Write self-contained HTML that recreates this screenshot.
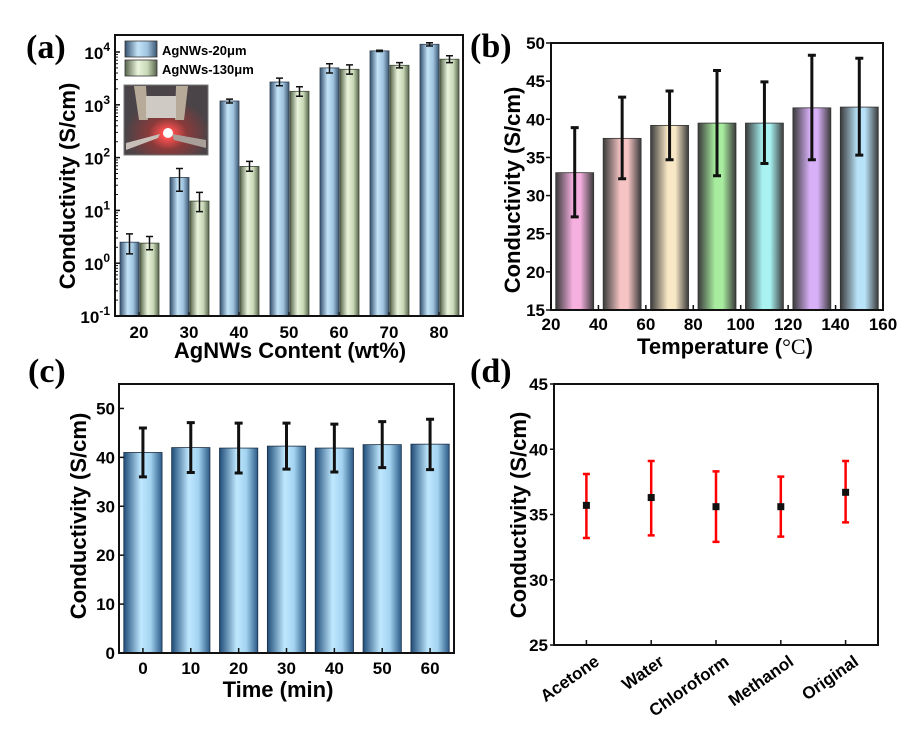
<!DOCTYPE html>
<html><head><meta charset="utf-8"><style>
html,body{margin:0;padding:0;background:#fff}
svg{display:block;font-family:"Liberation Sans",Arial,sans-serif}
.tk{font-size:17px;font-weight:bold}
.ti{font-size:22px;font-weight:bold}
.pl{font-family:"Liberation Serif",serif;font-size:34px;font-weight:bold}
</style></head><body>
<svg id="fig" width="899" height="735" viewBox="0 0 899 735">
<defs>
<linearGradient id="gBlue" x1="0" x2="1"><stop offset="0" stop-color="#34506e"/><stop offset="0.4" stop-color="#c4e4f8"/><stop offset="0.7" stop-color="#9fc3de"/><stop offset="1" stop-color="#3b5571"/></linearGradient>
<linearGradient id="gGreen" x1="0" x2="1"><stop offset="0" stop-color="#56634b"/><stop offset="0.4" stop-color="#eaf4dc"/><stop offset="0.7" stop-color="#c8d8b6"/><stop offset="1" stop-color="#56634b"/></linearGradient>
<linearGradient id="gC" x1="0" x2="1"><stop offset="0" stop-color="#1f4c78"/><stop offset="0.45" stop-color="#bfe8ff"/><stop offset="0.7" stop-color="#a3d3f0"/><stop offset="1" stop-color="#2b5a86"/></linearGradient>
<radialGradient id="glow" cx="0.52" cy="0.7" r="0.5"><stop offset="0" stop-color="#fff"/><stop offset="0.12" stop-color="#ff5050"/><stop offset="0.45" stop-color="#8a3a3a"/><stop offset="1" stop-color="#4a4448"/></radialGradient>
</defs>
<g id="pa"></g>
<g id="pb"></g>
<g id="pc"></g>
<g id="pd"></g>
</svg>
<script>
// Panel a data
const aCats=[20,30,40,50,60,70,80];
const aBlue=[2.5,42,1180,2700,5000,10500,14000];
const aBlueLo=[1.5,23,1080,2300,4000,10200,13000];
const aBlueHi=[3.6,62,1280,3200,6000,10800,15000];
const aGreen=[2.4,15,68,1800,4700,5600,7300];
const aGreenLo=[1.8,9.5,55,1450,3800,5000,6300];
const aGreenHi=[3.2,22,85,2200,5700,6300,8500];
const aTicks=[-1,0,1,2,3,4];
// Panel b data
const bCats=[30,50,70,90,110,130,150];
const bVals=[33,37.5,39.2,39.5,39.5,41.5,41.6];
const bLo=[27.2,32.2,34.7,32.6,34.2,34.7,35.3];
const bHi=[38.9,42.9,43.7,46.4,44.9,48.4,48.0];
const bColors=["#f6b0e0","#f6c4c4","#f9e8c6","#a8eca0","#a8f2f2","#d8b0f8","#b8e2f8"];
const bXTicks=[20,40,60,80,100,120,140,160];
const bYTicks=[15,20,25,30,35,40,45,50];
// Panel c data
const cCats=[0,10,20,30,40,50,60];
const cVals=[41,42,41.9,42.3,41.9,42.6,42.7];
const cLo=[36,36.9,36.8,37.6,37,37.9,37.5];
const cHi=[46,47.1,47,47,46.8,47.3,47.8];
const cYTicks=[0,10,20,30,40,50];
// Panel d data
const dCats=["Acetone","Water","Chloroform","Methanol","Original"];
const dVals=[35.7,36.3,35.6,35.6,36.7];
const dLo=[33.2,33.4,32.9,33.3,34.4];
const dHi=[38.1,39.1,38.3,37.9,39.1];
const dYTicks=[25,30,35,40,45];

const NS="http://www.w3.org/2000/svg";
function mk(p,tag,at,txt){const e=document.createElementNS(NS,tag);for(const k in at)e.setAttribute(k,at[k]);if(txt!==undefined)e.textContent=txt;p.appendChild(e);return e;}
function errbar(g,x,y1,y2,w,color,sw,name){
  const e=mk(g,'path',{d:`M${x},${y1}V${y2}M${x-w},${y1}H${x+w}M${x-w},${y2}H${x+w}`,stroke:color,'stroke-width':sw,fill:'none'});
  
  
}
function frame(g,l,t,r,b){const e=mk(g,'rect',{x:l,y:t,width:r-l,height:b-t,fill:'none',stroke:'#111','stroke-width':2});
  
  }
function ytitle(g,x,y,txt){const e=mk(g,'text',{x:x,y:y,class:'ti','text-anchor':'middle',transform:`rotate(-90 ${x} ${y})`},txt);
  
  }
function xtitle(g,x,y,txt){const e=mk(g,'text',{x:x,y:y,class:'ti','text-anchor':'middle'},txt);
  
  }
function plabel(g,x,y,txt){const e=mk(g,'text',{x:x,y:y,class:'pl'},txt);
  
  }

// ---- Panel a
(function(){
 const g=document.getElementById('pa');
 const L=115,R=463,T=35,B=316;
 const y=v=>B-(Math.log10(v)+1)*52.8;
 const x=c=>139+(c-20)*5.0;
 aCats.forEach((c,i)=>{
  const cx=x(c);
  let r=mk(g,'rect',{x:cx-19,y:y(aBlue[i]),width:19,height:B-y(aBlue[i]),fill:'url(#gBlue)',stroke:'#2f3f50','stroke-width':0.8});
  
  
  r=mk(g,'rect',{x:cx+1,y:y(aGreen[i]),width:19,height:B-y(aGreen[i]),fill:'url(#gGreen)',stroke:'#3e4a36','stroke-width':0.8});
  
  
  errbar(g,cx-9.5,y(aBlueLo[i]),y(aBlueHi[i]),3.5,'#111',1.5,'errorbar-20um');
  errbar(g,cx+10.5,y(aGreenLo[i]),y(aGreenHi[i]),3.5,'#111',1.5,'errorbar-130um');
  let t=mk(g,'text',{x:cx,y:338,class:'tk','text-anchor':'middle'},c);
  
  
  mk(g,'line',{x1:cx,x2:cx,y1:B,y2:B-4,stroke:'#111','stroke-width':1.2});
 });
 aTicks.forEach(p=>{
  const yy=y(Math.pow(10,p));
  mk(g,'line',{x1:L,x2:L+5,y1:yy,y2:yy,stroke:'#111','stroke-width':1.5});
  if(p<4)for(let k=2;k<10;k++){const ym=y(k*Math.pow(10,p));mk(g,'line',{x1:L,x2:L+3,y1:ym,y2:ym,stroke:'#111','stroke-width':1});}
  const t=mk(g,'text',{x:L-5,y:yy+7,class:'tk','text-anchor':'end'});
  
  
  mk(t,'tspan',{},'10');
  mk(t,'tspan',{dy:-8,'font-size':12},String(p));
 });
 frame(g,L,T,R,B);
 // legend
 let s=mk(g,'rect',{x:125,y:41,width:32,height:16,fill:'url(#gBlue)',stroke:'#333','stroke-width':0.8});
 
 
 s=mk(g,'rect',{x:125,y:60,width:32,height:16,fill:'url(#gGreen)',stroke:'#333','stroke-width':0.8});
 
 
 let t=mk(g,'text',{x:162,y:55,'font-size':13,'font-weight':'bold'},'AgNWs-20μm');
 
 
 t=mk(g,'text',{x:162,y:74,'font-size':13,'font-weight':'bold'},'AgNWs-130μm');
 
 
 // inset photo
 const ig=mk(g,'g',{});
 
 
 mk(ig,'rect',{x:124,y:85,width:84,height:70,fill:'url(#glow)',stroke:'#777','stroke-width':1});
 mk(ig,'path',{d:'M134,86 L146,86 L148,120 L139,120Z',fill:'#b8aa98'});
 mk(ig,'path',{d:'M176,86 L188,86 L184,120 L175,120Z',fill:'#b8aa98'});
 mk(ig,'rect',{x:146,y:96,width:30,height:22,fill:'#cfcac4'});
 mk(ig,'path',{d:'M126,143 L160,134 L158,138 L126,150Z',fill:'#c8c0b8'});
 mk(ig,'path',{d:'M172,134 L206,140 L206,148 L174,140Z',fill:'#a8a098'});
 mk(ig,'circle',{cx:168,cy:133,r:5,fill:'#fff'});
 ytitle(g,75,186,'Conductivity (S/cm)');
 xtitle(g,290,358,'AgNWs Content (wt%)');
 plabel(g,26,58,'(a)');
})();

// ---- Panel b
(function(){
 const g=document.getElementById('pb');
 const L=551,R=883,T=43,B=310;
 const x=v=>L+(v-20)*(R-L)/140;
 const y=v=>B-(v-15)*(B-T)/35;
 bCats.forEach((c,i)=>{
  const gid='gb'+i;
  const lg=mk(document.querySelector('defs'),'linearGradient',{id:gid,x1:0,x2:1});
  mk(lg,'stop',{offset:0,'stop-color':'#3a3a3a'});
  mk(lg,'stop',{offset:0.45,'stop-color':bColors[i]});
  mk(lg,'stop',{offset:0.65,'stop-color':bColors[i]});
  mk(lg,'stop',{offset:1,'stop-color':'#3a3a3a'});
  const r=mk(g,'rect',{x:x(c-8),y:y(bVals[i]),width:x(c+8)-x(c-8),height:B-y(bVals[i]),fill:`url(#${gid})`,stroke:'#333','stroke-width':0.8});
  
  
  errbar(g,x(c),y(bLo[i]),y(bHi[i]),4,'#111',3,'errorbar-'+c+'C');
 });
 bXTicks.forEach(v=>{
  mk(g,'line',{x1:x(v),x2:x(v),y1:B,y2:B-5,stroke:'#111','stroke-width':1.5});
  const t=mk(g,'text',{x:x(v),y:330,class:'tk','text-anchor':'middle'},v);
  
  
 });
 bYTicks.forEach(v=>{
  mk(g,'line',{x1:L,x2:L-5,y1:y(v),y2:y(v),stroke:'#111','stroke-width':1.5});
  const t=mk(g,'text',{x:L-6,y:y(v)+6,class:'tk','text-anchor':'end'},v);
  
  
 });
 frame(g,L,T,R,B);
 ytitle(g,520,190,'Conductivity (S/cm)');
 const t=mk(g,'text',{x:725,y:354,class:'ti','text-anchor':'middle'});
 
 
 mk(t,'tspan',{},'Temperature (');
 mk(t,'tspan',{'font-family':'Liberation Serif, serif','font-weight':'normal'},'°C');
 mk(t,'tspan',{},')');
 plabel(g,470,57,'(b)');
})();

// ---- Panel c
(function(){
 const g=document.getElementById('pc');
 const L=119,R=454,T=384,B=653;
 const x=v=>L+(v+5)*(R-L)/70;
 const y=v=>B-v*(B-T)/55;
 cCats.forEach((c,i)=>{
  const r=mk(g,'rect',{x:x(c-4),y:y(cVals[i]),width:x(c+4)-x(c-4),height:B-y(cVals[i]),fill:'url(#gC)',stroke:'#1b2f45','stroke-width':0.8});
  
  
  errbar(g,x(c),y(cLo[i]),y(cHi[i]),4,'#111',3,'errorbar-'+c+'min');
  mk(g,'line',{x1:x(c),x2:x(c),y1:B,y2:B-5,stroke:'#111','stroke-width':1.5});
  const t=mk(g,'text',{x:x(c),y:674,class:'tk','text-anchor':'middle'},c);
  
  
 });
 cYTicks.forEach(v=>{
  mk(g,'line',{x1:L,x2:L+5,y1:y(v),y2:y(v),stroke:'#111','stroke-width':1.5});
  const t=mk(g,'text',{x:L-4,y:y(v)+6,class:'tk','text-anchor':'end'},v);
  
  
 });
 frame(g,L,T,R,B);
 ytitle(g,86,516,'Conductivity (S/cm)');
 xtitle(g,278,697,'Time (min)');
 plabel(g,28,382,'(c)');
})();

// ---- Panel d
(function(){
 const g=document.getElementById('pd');
 const L=554,R=878,T=384,B=645;
 const x=i=>L+(i+0.5)*(R-L)/5;
 const y=v=>B-(v-25)*(B-T)/20;
 dCats.forEach((c,i)=>{
  errbar(g,x(i),y(dLo[i]),y(dHi[i]),3.5,'#ff0000',2.5,'errorbar-'+c.toLowerCase());
  const p=mk(g,'rect',{x:x(i)-3.5,y:y(dVals[i])-3.5,width:7,height:7,fill:'#111'});
  
  
  mk(g,'line',{x1:x(i),x2:x(i),y1:B,y2:B-5,stroke:'#111','stroke-width':1.5});
  const tx=x(i)+14,ty=664;
  const t=mk(g,'text',{x:tx,y:ty,class:'tk','font-size':18,'text-anchor':'end',transform:`rotate(-35 ${tx} ${ty})`},c);
  
  
 });
 dYTicks.forEach(v=>{
  mk(g,'line',{x1:L,x2:L-4,y1:y(v),y2:y(v),stroke:'#111','stroke-width':1.5});
  const t=mk(g,'text',{x:L-6,y:y(v)+6,class:'tk','text-anchor':'end'},v);
  
  
 });
 frame(g,L,T,R,B);
 ytitle(g,526,515,'Conductivity (S/cm)');
 plabel(g,470,382,'(d)');
})();
</script>
</body></html>
